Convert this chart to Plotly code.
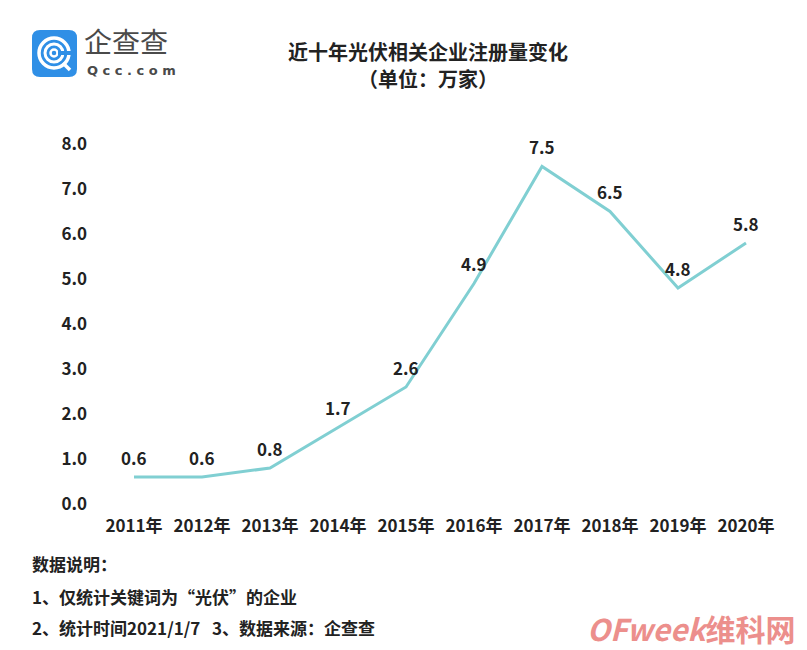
import plotly.graph_objects as go

years = ["2011年", "2012年", "2013年", "2014年", "2015年", "2016年", "2017年", "2018年", "2019年", "2020年"]
values = [0.6, 0.6, 0.8, 1.7, 2.6, 4.9, 7.5, 6.5, 4.8, 5.8]
y_ticks = [0, 1, 2, 3, 4, 5, 6, 7, 8]
y_tick_text = ["0.0", "1.0", "2.0", "3.0", "4.0", "5.0", "6.0", "7.0", "8.0"]

title_text = "近十年光伏相关企业注册量变化"
unit_text = "（单位：万家）"
note_head = "数据说明："
note_1 = "1、仅统计关键词为“光伏”的企业"
note_2 = "2、统计时间2021/1/7&nbsp;&nbsp;&nbsp;3、数据来源：企查查"

W, H = 807, 650
L, R, T, B = 100, 27, 144, 146
PW, PH = W - L - R, H - T - B
FONT = "Noto Sans CJK SC"
INK = "#222222"


def px(x):
    return (x - L) / PW


def py(y):
    return (H - B - y) / PH


fig = go.Figure()
fig.add_trace(go.Scatter(
    x=list(range(len(years))), y=values, mode="lines",
    line=dict(color="#80cfd2", width=3),
    showlegend=False, hoverinfo="skip",
))

fig.update_layout(
    width=W, height=H, margin=dict(l=L, r=R, t=T, b=B),
    paper_bgcolor="white", plot_bgcolor="white",
    font=dict(family=FONT, color=INK),
    xaxis=dict(range=[-0.5, 9.5], tickmode="array", tickvals=list(range(len(years))),
               ticktext=years, showgrid=False, zeroline=False, showline=False,
               ticks="", tickfont=dict(family=FONT, size=17, color=INK, weight="bold"),
               ticklabelstandoff=10),
    yaxis=dict(range=[0, 8], tickmode="array", tickvals=y_ticks, ticktext=y_tick_text,
               showgrid=False, zeroline=False, showline=False, ticks="",
               tickfont=dict(family=FONT, size=17, color=INK, weight="bold"),
               ticklabelstandoff=12),
)

ann = []
# data labels above each point
for i, v in enumerate(values):
    ann.append(dict(x=i, y=v, xref="x", yref="y", text=f"{v:.1f}", showarrow=False,
                    yshift=20, xanchor="center", yanchor="middle",
                    font=dict(family=FONT, size=17, color=INK, weight="bold")))


def pann(x, y, text, size, xanchor="center", **kw):
    fnt = dict(family=kw.pop("family", FONT), size=size, color=kw.pop("color", INK))
    if kw.pop("bold", True):
        fnt["weight"] = "bold"
    return dict(x=px(x), y=py(y), xref="paper", yref="paper", text=text, showarrow=False,
                xanchor=xanchor, yanchor="middle", font=fnt, **kw)


ann.append(pann(428, 51, title_text, 20))
ann.append(pann(428, 78, unit_text, 20))
ann.append(pann(30, 563, note_head, 17, "left"))
ann.append(pann(30, 596, note_1, 17, "left"))
ann.append(pann(30, 627, note_2, 17, "left"))
# logo text
ann.append(pann(82, 41, "企查查", 28, "left", color="#4a4a4a", bold=False))
ann.append(pann(85, 70, "Q c c . c o m", 13, "left", color="#4a4a4a", family="DejaVu Sans"))
# watermark
ann.append(pann(797, 628, "<i>OFweek</i>维科网", 30, "right", color="#ec8f8c"))
fig.update_layout(annotations=ann)

# logo icon: rounded blue square
x0, x1, y0, y1, r = 32, 77, 30, 77, 8
path = (f"M{px(x0 + r)},{py(y0)} L{px(x1 - r)},{py(y0)} Q{px(x1)},{py(y0)} {px(x1)},{py(y0 + r)} "
        f"L{px(x1)},{py(y1 - r)} Q{px(x1)},{py(y1)} {px(x1 - r)},{py(y1)} "
        f"L{px(x0 + r)},{py(y1)} Q{px(x0)},{py(y1)} {px(x0)},{py(y1 - r)} "
        f"L{px(x0)},{py(y0 + r)} Q{px(x0)},{py(y0)} {px(x0 + r)},{py(y0)} Z")
shapes = [dict(type="path", path=path, xref="paper", yref="paper",
               fillcolor="#2f8fe6", line=dict(width=0))]
cx, cy = 54, 53
for rad, w in [(15, 3.5), (9, 3), (3.5, 2.5)]:
    shapes.append(dict(type="circle", xref="paper", yref="paper",
                       x0=px(cx - rad), x1=px(cx + rad), y0=py(cy + rad), y1=py(cy - rad),
                       line=dict(color="white", width=w)))
# open the rings on the right like a "C"
shapes.append(dict(type="rect", xref="paper", yref="paper",
                   x0=px(58), x1=px(71), y0=py(55), y1=py(51),
                   fillcolor="#2f8fe6", line=dict(width=0)))
shapes.append(dict(type="line", xref="paper", yref="paper",
                   x0=px(63), y0=py(63), x1=px(70), y1=py(70),
                   line=dict(color="white", width=3.5)))
fig.update_layout(shapes=shapes)

fig.write_html("out.html")
